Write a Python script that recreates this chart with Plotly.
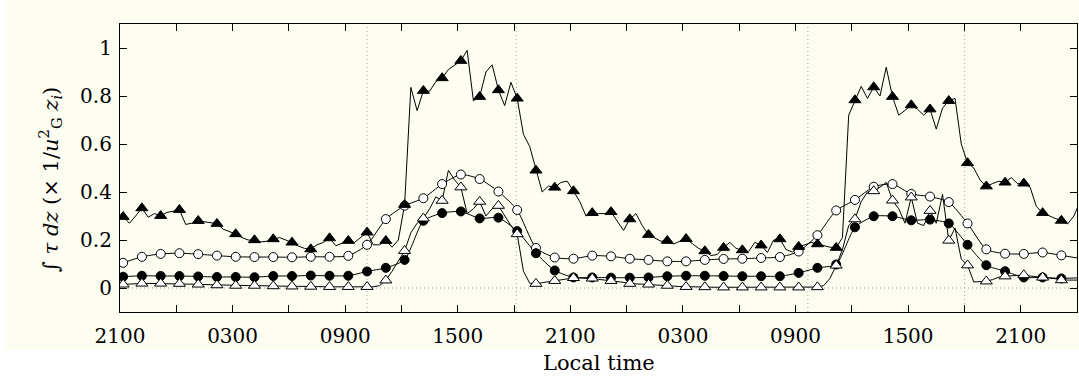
import plotly.graph_objects as go

# ---------------- data ----------------
# time of first output, local hours (21:10); dense series every 20 min, markers hourly
T_START = 21 + 10 / 60
DENSE_STEP = 1 / 3
HOURLY_STEP = 1.0
N_MARKERS = 51

# filled triangles, dense line (20-min)
tri_filled = [
    0.297, 0.27, 0.30, 0.333, 0.295, 0.31, 0.301, 0.315, 0.32, 0.326, 0.265, 0.27,
    0.28, 0.275, 0.27, 0.268, 0.245, 0.235, 0.225, 0.21, 0.20, 0.20, 0.192, 0.195,
    0.204, 0.21, 0.20, 0.19, 0.175, 0.165, 0.162, 0.18, 0.19, 0.208, 0.176, 0.185,
    0.197, 0.19, 0.21, 0.232, 0.18, 0.18, 0.197, 0.17, 0.20, 0.347, 0.836, 0.739,
    0.822, 0.82, 0.86, 0.875, 0.91, 0.93, 0.947, 0.99, 0.78, 0.797, 0.90, 0.93,
    0.825, 0.76, 0.857, 0.79, 0.64, 0.59, 0.49, 0.40, 0.425, 0.419, 0.44, 0.445,
    0.404, 0.36, 0.30, 0.313, 0.31, 0.31, 0.317, 0.28, 0.24, 0.287, 0.31, 0.26,
    0.222, 0.208, 0.195, 0.197, 0.183, 0.195, 0.205, 0.185, 0.165, 0.154, 0.135, 0.14,
    0.168, 0.19, 0.165, 0.158, 0.152, 0.19, 0.178, 0.148, 0.20, 0.204, 0.16, 0.15,
    0.172, 0.18, 0.19, 0.183, 0.175, 0.17, 0.168, 0.21, 0.72, 0.783, 0.84, 0.79,
    0.837, 0.80, 0.92, 0.797, 0.72, 0.74, 0.762, 0.745, 0.72, 0.745, 0.662, 0.75,
    0.78, 0.79, 0.60, 0.521, 0.50, 0.45, 0.424, 0.435, 0.445, 0.44, 0.46, 0.435,
    0.436, 0.42, 0.34, 0.313, 0.30, 0.29, 0.281, 0.267, 0.30, 0.36,
]

# open triangles, dense line (20-min)
tri_open = [
    0.015, 0.017, 0.018, 0.019, 0.019, 0.019, 0.019, 0.019, 0.018, 0.018, 0.017, 0.016,
    0.015, 0.014, 0.013, 0.012, 0.011, 0.010, 0.010, 0.010, 0.010, 0.010, 0.009, 0.009,
    0.008, 0.008, 0.007, 0.007, 0.007, 0.006, 0.006, 0.006, 0.005, 0.005, 0.005, 0.005,
    0.005, 0.005, 0.005, 0.005, 0.005, 0.010, 0.032, 0.07, 0.11, 0.155, 0.23, 0.27,
    0.29, 0.33, 0.38, 0.364, 0.49, 0.45, 0.42, 0.31, 0.33, 0.36, 0.30, 0.33,
    0.343, 0.30, 0.26, 0.225, 0.07, 0.02, 0.018, 0.022, 0.026, 0.03, 0.034, 0.038,
    0.042, 0.042, 0.041, 0.04, 0.036, 0.033, 0.03, 0.026, 0.022, 0.018, 0.017, 0.016,
    0.015, 0.013, 0.012, 0.01, 0.008, 0.006, 0.005, 0.005, 0.004, 0.004, 0.004, 0.003,
    0.003, 0.003, 0.003, 0.003, 0.003, 0.003, 0.003, 0.003, 0.003, 0.003, 0.003, 0.003,
    0.003, 0.003, 0.004, 0.004, 0.01, 0.04, 0.094, 0.16, 0.26, 0.287, 0.36, 0.40,
    0.404, 0.42, 0.44, 0.365, 0.33, 0.27, 0.378, 0.27, 0.26, 0.322, 0.27, 0.39,
    0.198, 0.25, 0.12, 0.095, 0.025, 0.025, 0.028, 0.035, 0.045, 0.049, 0.05, 0.052,
    0.054, 0.05, 0.047, 0.044, 0.04, 0.036, 0.033, 0.033, 0.033, 0.033,
]

# open circles, hourly
circ_open = [
    0.105, 0.13, 0.142, 0.145, 0.141, 0.135, 0.13, 0.129, 0.129, 0.128, 0.13, 0.13,
    0.134, 0.18, 0.287, 0.343, 0.374, 0.433, 0.473, 0.454, 0.402, 0.325, 0.167, 0.127,
    0.122, 0.135, 0.132, 0.122, 0.117, 0.111, 0.111, 0.117, 0.121, 0.122, 0.125, 0.129,
    0.152, 0.22, 0.323, 0.367, 0.422, 0.433, 0.392, 0.381, 0.358, 0.269, 0.161, 0.143,
    0.142, 0.148, 0.136, 0.123,
]

# filled circles, hourly
circ_filled = [
    0.047, 0.051, 0.05, 0.05, 0.048, 0.046, 0.046, 0.045, 0.05, 0.05, 0.052, 0.051,
    0.051, 0.069, 0.084, 0.117, 0.28, 0.312, 0.319, 0.29, 0.293, 0.237, 0.145, 0.073,
    0.044, 0.044, 0.043, 0.043, 0.044, 0.049, 0.051, 0.051, 0.05, 0.049, 0.049, 0.049,
    0.063, 0.084, 0.098, 0.253, 0.299, 0.299, 0.282, 0.285, 0.269, 0.18, 0.095, 0.07,
    0.044, 0.044, 0.04, 0.043,
]

# vertical dotted reference lines (local hours)
ref_lines = [34.16, 42.12, 57.66, 66.01]

x_tick_vals = [21, 27, 33, 39, 45, 51, 57, 63, 69]
x_tick_text = ["2100", "0300", "0900", "1500", "2100", "0300", "0900", "1500", "2100"]
y_tick_vals = [0, 0.2, 0.4, 0.6, 0.8, 1.0]
y_tick_text = ["0", "0.2", "0.4", "0.6", "0.8", "1"]

# ---------------- figure ----------------
t_dense = [T_START + j * DENSE_STEP for j in range(len(tri_filled))]
t_hourly = [T_START + k * HOURLY_STEP for k in range(len(circ_open))]

CREAM = "#fdfdf1"
FONT = "DejaVu Serif"
W, H = 1079, 381
L, R, T, B = 120, 2, 24, 69
pw, ph = W - L - R, H - T - B

fig = go.Figure()
line_style = dict(color="black", width=1)

fig.add_trace(go.Scatter(x=t_hourly, y=circ_open, mode="lines",
                         line=dict(shape="spline", smoothing=0.6, **line_style),
                         hoverinfo="skip", showlegend=False))
fig.add_trace(go.Scatter(x=t_hourly, y=circ_filled, mode="lines",
                         line=dict(shape="spline", smoothing=0.6, **line_style),
                         hoverinfo="skip", showlegend=False))
fig.add_trace(go.Scatter(x=t_dense, y=tri_open, mode="lines", line=line_style,
                         hoverinfo="skip", showlegend=False))
fig.add_trace(go.Scatter(x=t_dense, y=tri_filled, mode="lines", line=line_style,
                         hoverinfo="skip", showlegend=False))

mk_line = dict(color="black", width=1)
fig.add_trace(go.Scatter(x=t_hourly[:N_MARKERS], y=circ_open[:N_MARKERS], mode="markers",
                         marker=dict(symbol="circle", size=9, color="white", line=mk_line),
                         showlegend=False))
fig.add_trace(go.Scatter(x=t_hourly[:N_MARKERS], y=circ_filled[:N_MARKERS], mode="markers",
                         marker=dict(symbol="circle", size=9, color="black", line=mk_line),
                         showlegend=False))
fig.add_trace(go.Scatter(x=t_dense[:3 * N_MARKERS:3], y=tri_open[:3 * N_MARKERS:3], mode="markers",
                         marker=dict(symbol="triangle-up", size=10.5, color="white", line=mk_line),
                         showlegend=False))
fig.add_trace(go.Scatter(x=t_dense[:3 * N_MARKERS:3], y=tri_filled[:3 * N_MARKERS:3], mode="markers",
                         marker=dict(symbol="triangle-up", size=10.5, color="black", line=mk_line),
                         showlegend=False))

shapes = [dict(type="rect", xref="paper", yref="paper", layer="below",
               x0=(5 - L) / pw, x1=(W - L + 5) / pw,
               y0=(T + ph - 350) / ph, y1=(T + ph + 5) / ph,
               fillcolor=CREAM, line=dict(width=0))]
dot_style = dict(color="#a0a0a0", width=1, dash="1px,3px")
for xv in ref_lines:
    shapes.append(dict(type="line", xref="x", yref="paper", x0=xv, x1=xv, y0=0, y1=1,
                       layer="below", line=dot_style))
shapes.append(dict(type="line", xref="paper", yref="y", x0=0, x1=1, y0=0, y1=0,
                   layer="below", line=dot_style))

axis_common = dict(showline=True, linecolor="black", linewidth=1.2, mirror="ticks",
                   ticks="inside", ticklen=7, tickwidth=1, tickcolor="black",
                   showgrid=False, zeroline=False,
                   tickfont=dict(family=FONT, size=20, color="black"))

fig.update_layout(
    width=W, height=H,
    margin=dict(l=L, r=R, t=T, b=B),
    paper_bgcolor="white", plot_bgcolor=CREAM,
    shapes=shapes,
    xaxis=dict(range=[21, 72], tickmode="array", tickvals=x_tick_vals, ticktext=x_tick_text,
               ticklabelstandoff=6,
               minor=dict(ticks="inside", ticklen=7, tickwidth=1, tickcolor="black",
                          tick0=21, dtick=3, showgrid=False),
               **axis_common),
    yaxis=dict(range=[-0.1, 1.1], tickmode="array", tickvals=y_tick_vals, ticktext=y_tick_text,
               ticklabelstandoff=3, **axis_common),
    annotations=[
        dict(text="Local time", xref="paper", yref="paper", x=0.5, y=(T + ph - 363) / ph,
             xanchor="center", yanchor="middle", showarrow=False,
             font=dict(family=FONT, size=21, color="black")),
        dict(text="∫ <i>τ dz</i> (× 1/<i>u</i><sup>2</sup><sub>G</sub> <i>z<sub>i</sub></i>)",
             xref="paper", yref="paper", x=(50 - L) / pw, y=(T + ph - 180) / ph,
             xanchor="center", yanchor="middle", textangle=-90, showarrow=False,
             font=dict(family=FONT, size=21, color="black")),
    ],
)

fig.write_html("out.html")
